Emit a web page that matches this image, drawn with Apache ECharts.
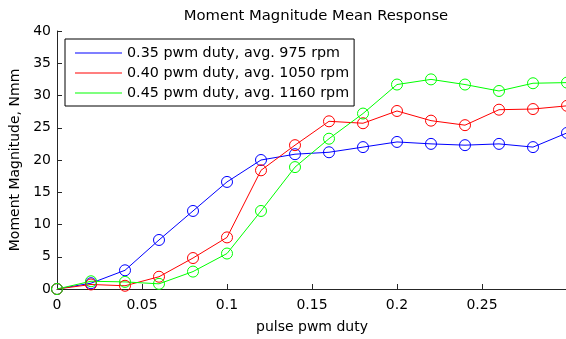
<!DOCTYPE html>
<html>
<head>
<meta charset="utf-8">
<script src="https://cdn.jsdelivr.net/npm/echarts@6/dist/echarts.min.js"></script>
<style>
  html, body { margin: 0; padding: 0; background: #fff; }
  #chart { width: 566px; height: 339px; }
</style>
</head>
<body>
<div id="chart"></div>
<script>
// pulse pwm duty values (x)
const duty = [0, 0.02, 0.04, 0.06, 0.08, 0.1, 0.12, 0.14, 0.16, 0.18, 0.2, 0.22, 0.24, 0.26, 0.28, 0.3];

// moment magnitude, Nmm
const run035 = [0, 0.9, 2.9, 7.6, 12.1, 16.6, 20.0, 20.9, 21.2, 22.0, 22.8, 22.5, 22.3, 22.5, 22.0, 24.2];
const run040 = [0, 0.7, 0.5, 1.9, 4.8, 8.0, 18.4, 22.3, 26.0, 25.7, 27.6, 26.1, 25.4, 27.8, 27.9, 28.4];
const run045 = [0, 1.2, 1.1, 0.8, 2.7, 5.5, 12.1, 18.9, 23.3, 27.2, 31.7, 32.5, 31.7, 30.7, 31.9, 32.0];

const seriesNames = [
  "0.35 pwm duty, avg. 975 rpm",
  "0.40 pwm duty, avg. 1050 rpm",
  "0.45 pwm duty, avg. 1160 rpm",
];
const seriesColors = ["#0000ff", "#ff0000", "#00ff00"];

const font = "'DejaVu Sans', Verdana, sans-serif";
const axisColor = "#262626";

const chart = echarts.init(document.getElementById("chart"), null, { renderer: "canvas" });

const series = [run035, run040, run045].map((vals, i) => ({
  name: seriesNames[i],
  type: "line",
  data: duty.map((x, j) => [x, vals[j]]),
  symbol: "circle",
  symbolSize: 11,
  showSymbol: true,
  clip: false,
  lineStyle: { color: seriesColors[i], width: 1 },
  itemStyle: { color: "transparent", borderColor: seriesColors[i], borderWidth: 1 },
  emphasis: { disabled: true },
  animation: false,
}));

chart.setOption({
  backgroundColor: "#fff",
  animation: false,
  title: {
    text: "Moment Magnitude Mean Response",
    left: 311,
    top: 4,
    textAlign: "center",
    textStyle: { fontFamily: font, fontSize: 14.8, fontWeight: "normal", color: "#000" },
  },
  legend: {
    orient: "vertical",
    left: 65,
    top: 39,
    padding: [6, 5, 5, 10],
    itemGap: 4,
    itemWidth: 47,
    itemHeight: 1,
    itemTextGap: 6,
    icon: "rect",
    borderColor: "#000",
    borderWidth: 1,
    backgroundColor: "#fff",
    selectedMode: false,
    data: seriesNames.map((n, i) => ({
      name: n,
      itemStyle: { color: seriesColors[i], borderWidth: 0 },
    })),
    textStyle: { fontFamily: font, fontSize: 14.3, color: "#000", lineHeight: 16 },
  },
  grid: { left: 57, right: -1, top: 31, bottom: 50, containLabel: false, outerBoundsMode: "none" },
  xAxis: {
    type: "value",
    min: 0,
    max: 0.3,
    interval: 0.05,
    name: "pulse pwm duty",
    nameLocation: "middle",
    nameGap: 31,
    nameTextStyle: { fontFamily: font, fontSize: 14, color: "#000" },
    axisLine: { lineStyle: { color: axisColor, width: 1 } },
    axisTick: { inside: true, length: 5, lineStyle: { color: axisColor } },
    axisLabel: {
      fontFamily: font,
      fontSize: 14,
      color: "#000",
      margin: 9,
      formatter: (v) => (v >= 0.299 ? "" : String(+v.toFixed(2))),
    },
    splitLine: { show: false },
  },
  yAxis: {
    type: "value",
    min: 0,
    max: 40,
    interval: 5,
    name: "Moment Magnitude, Nmm",
    nameLocation: "middle",
    nameGap: 30,
    nameTextStyle: { fontFamily: font, fontSize: 14, color: "#000" },
    axisLine: { show: true, lineStyle: { color: axisColor, width: 1 } },
    axisTick: { show: true, inside: true, length: 5, lineStyle: { color: axisColor } },
    axisLabel: { fontFamily: font, fontSize: 14, color: "#000", margin: 6 },
    splitLine: { show: false },
  },
  series,
});
</script>
</body>
</html>
